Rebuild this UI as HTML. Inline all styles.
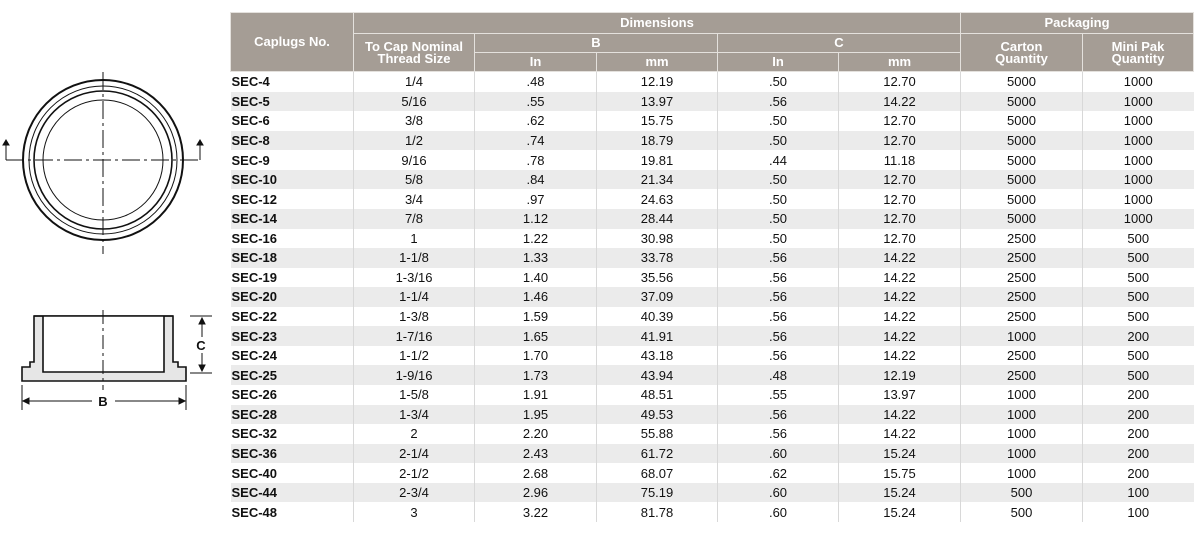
<!DOCTYPE html>
<html><head><meta charset="utf-8"><style>
body{margin:0;width:1200px;height:541px;background:#fff;position:relative;overflow:hidden;font-family:"Liberation Sans Narrow","Liberation Sans",sans-serif;}
table{position:absolute;left:230px;top:12px;border-collapse:collapse;table-layout:fixed;width:963px;}
th{background:#a59d95;color:#fff;font-weight:bold;font-size:13px;border:1.5px solid #e4e1dd;padding:0;line-height:12px;text-align:center;}
td{font-size:13px;height:19.57px;padding:0;text-align:center;border-left:1.5px solid #d8d8d8;color:#111;line-height:19px;}
td:first-child{text-align:left;font-weight:bold;border-left:none;padding-left:1px;font-family:"Liberation Sans",sans-serif;font-size:13px;}
tr.g td{background:#ebebeb;}
</style></head><body>
<svg width="230" height="541" style="position:absolute;left:0;top:0" fill="none" stroke="#111">
<circle cx="103" cy="160" r="80" stroke-width="2"/>
<circle cx="103" cy="160" r="74" stroke-width="1"/>
<circle cx="103" cy="160" r="69" stroke-width="1.6"/>
<circle cx="103" cy="160" r="60" stroke-width="1"/>
<line x1="103" y1="72" x2="103" y2="254" stroke-dasharray="18,4,3,4" stroke-width="1"/>
<line x1="6" y1="160" x2="200" y2="160" stroke-dasharray="18,4,3,4" stroke-width="1"/>
<polyline points="6,160 6,143" stroke-width="1"/><polygon points="3,145 9,145 6,140" fill="#111"/>
<polyline points="200,160 200,143" stroke-width="1"/><polygon points="197,145 203,145 200,140" fill="#111"/>
<path d="M34,316 H173 V362 H178 V367 H186 V381 H22 V367 H30 V362 H34 Z" fill="#e6e6e6" stroke-width="1.6"/>
<path d="M43,316 V372 H164 V316 Z" fill="#fff" stroke="none"/>
<path d="M43,316 V372 H164 V316" stroke-width="1.6"/>
<line x1="34" y1="316" x2="173" y2="316" stroke-width="1.6"/>
<line x1="103" y1="310" x2="103" y2="390" stroke-dasharray="14,4,3,4" stroke-width="1"/>
<line x1="22" y1="385" x2="22" y2="410" stroke-width="1"/><line x1="186" y1="385" x2="186" y2="410" stroke-width="1"/>
<line x1="23" y1="401" x2="92" y2="401" stroke-width="1"/><line x1="115" y1="401" x2="185" y2="401" stroke-width="1"/>
<polygon points="23,401 29,398 29,404" fill="#111"/><polygon points="185,401 179,398 179,404" fill="#111"/>
<line x1="190" y1="316" x2="212" y2="316" stroke-width="1"/><line x1="190" y1="373" x2="212" y2="373" stroke-width="1"/>
<line x1="202" y1="318" x2="202" y2="337" stroke-width="1"/><line x1="202" y1="353" x2="202" y2="371" stroke-width="1"/>
<polygon points="202,318 199,324 205,324" fill="#111"/><polygon points="202,371 199,365 205,365" fill="#111"/>
<text x="103" y="406" font-family="Liberation Sans" font-weight="bold" font-size="13" fill="#111" stroke="none" text-anchor="middle">B</text>
<text x="201" y="350" font-family="Liberation Sans" font-weight="bold" font-size="13" fill="#111" stroke="none" text-anchor="middle">C</text>
</svg>
<table>
<colgroup><col style="width:123px"><col style="width:121px"><col style="width:122px"><col style="width:121px"><col style="width:121px"><col style="width:122px"><col style="width:122px"><col style="width:111px"></colgroup>
<tr style="height:21px"><th rowspan="3">Caplugs No.</th><th colspan="5">Dimensions</th><th colspan="2">Packaging</th></tr>
<tr style="height:19px"><th rowspan="2">To Cap Nominal<br>Thread Size</th><th colspan="2">B</th><th colspan="2">C</th><th rowspan="2">Carton<br>Quantity</th><th rowspan="2">Mini Pak<br>Quantity</th></tr>
<tr style="height:19px"><th>In</th><th>mm</th><th>In</th><th>mm</th></tr>
<tr><td>SEC-4</td><td>1/4</td><td>.48</td><td>12.19</td><td>.50</td><td>12.70</td><td>5000</td><td>1000</td></tr>
<tr class="g"><td>SEC-5</td><td>5/16</td><td>.55</td><td>13.97</td><td>.56</td><td>14.22</td><td>5000</td><td>1000</td></tr>
<tr><td>SEC-6</td><td>3/8</td><td>.62</td><td>15.75</td><td>.50</td><td>12.70</td><td>5000</td><td>1000</td></tr>
<tr class="g"><td>SEC-8</td><td>1/2</td><td>.74</td><td>18.79</td><td>.50</td><td>12.70</td><td>5000</td><td>1000</td></tr>
<tr><td>SEC-9</td><td>9/16</td><td>.78</td><td>19.81</td><td>.44</td><td>11.18</td><td>5000</td><td>1000</td></tr>
<tr class="g"><td>SEC-10</td><td>5/8</td><td>.84</td><td>21.34</td><td>.50</td><td>12.70</td><td>5000</td><td>1000</td></tr>
<tr><td>SEC-12</td><td>3/4</td><td>.97</td><td>24.63</td><td>.50</td><td>12.70</td><td>5000</td><td>1000</td></tr>
<tr class="g"><td>SEC-14</td><td>7/8</td><td>1.12</td><td>28.44</td><td>.50</td><td>12.70</td><td>5000</td><td>1000</td></tr>
<tr><td>SEC-16</td><td>1</td><td>1.22</td><td>30.98</td><td>.50</td><td>12.70</td><td>2500</td><td>500</td></tr>
<tr class="g"><td>SEC-18</td><td>1-1/8</td><td>1.33</td><td>33.78</td><td>.56</td><td>14.22</td><td>2500</td><td>500</td></tr>
<tr><td>SEC-19</td><td>1-3/16</td><td>1.40</td><td>35.56</td><td>.56</td><td>14.22</td><td>2500</td><td>500</td></tr>
<tr class="g"><td>SEC-20</td><td>1-1/4</td><td>1.46</td><td>37.09</td><td>.56</td><td>14.22</td><td>2500</td><td>500</td></tr>
<tr><td>SEC-22</td><td>1-3/8</td><td>1.59</td><td>40.39</td><td>.56</td><td>14.22</td><td>2500</td><td>500</td></tr>
<tr class="g"><td>SEC-23</td><td>1-7/16</td><td>1.65</td><td>41.91</td><td>.56</td><td>14.22</td><td>1000</td><td>200</td></tr>
<tr><td>SEC-24</td><td>1-1/2</td><td>1.70</td><td>43.18</td><td>.56</td><td>14.22</td><td>2500</td><td>500</td></tr>
<tr class="g"><td>SEC-25</td><td>1-9/16</td><td>1.73</td><td>43.94</td><td>.48</td><td>12.19</td><td>2500</td><td>500</td></tr>
<tr><td>SEC-26</td><td>1-5/8</td><td>1.91</td><td>48.51</td><td>.55</td><td>13.97</td><td>1000</td><td>200</td></tr>
<tr class="g"><td>SEC-28</td><td>1-3/4</td><td>1.95</td><td>49.53</td><td>.56</td><td>14.22</td><td>1000</td><td>200</td></tr>
<tr><td>SEC-32</td><td>2</td><td>2.20</td><td>55.88</td><td>.56</td><td>14.22</td><td>1000</td><td>200</td></tr>
<tr class="g"><td>SEC-36</td><td>2-1/4</td><td>2.43</td><td>61.72</td><td>.60</td><td>15.24</td><td>1000</td><td>200</td></tr>
<tr><td>SEC-40</td><td>2-1/2</td><td>2.68</td><td>68.07</td><td>.62</td><td>15.75</td><td>1000</td><td>200</td></tr>
<tr class="g"><td>SEC-44</td><td>2-3/4</td><td>2.96</td><td>75.19</td><td>.60</td><td>15.24</td><td>500</td><td>100</td></tr>
<tr><td>SEC-48</td><td>3</td><td>3.22</td><td>81.78</td><td>.60</td><td>15.24</td><td>500</td><td>100</td></tr>
</table>
</body></html>
